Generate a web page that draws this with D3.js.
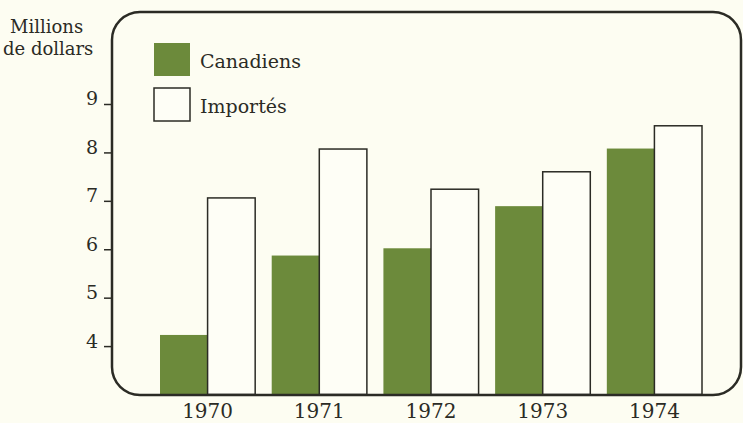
<!DOCTYPE html>
<html>
<head>
<meta charset="utf-8">
<script src="https://cdn.jsdelivr.net/npm/d3@7.9.0/dist/d3.min.js"></script>
<style>
  body { margin: 0; background: #fdfdf2; }
  svg { display: block; }
  text { font-family: "DejaVu Serif", serif; fill: #2b2b25; }
</style>
</head>
<body>
<svg id="chart" width="743" height="423"></svg>
<script>
const years = ['1970', '1971', '1972', '1973', '1974'];
const series = ['Canadiens', 'Importés'];
const canadiens = [4.23, 5.87, 6.02, 6.89, 8.08];
const importes = [7.06, 8.07, 7.24, 7.6, 8.55];
const yTicks = [4, 5, 6, 7, 8, 9];

const ink = '#2b2b25';
const colors = { 'Canadiens': '#6c8a3b', 'Importés': '#fefef6' };

const svg = d3.select('#chart');

const data = years.map((year, i) => ({
  year,
  values: [
    { key: 'Canadiens', value: canadiens[i] },
    { key: 'Importés', value: importes[i] },
  ],
}));

let x = d3.scaleBand().domain(years).range([160, 702]).paddingInner(0.148).paddingOuter(0);
let xs = d3.scaleBand().domain(series).range([0, x.bandwidth()]).padding(0);
let y = d3.scaleLinear().domain([3, 9]).range([394.5, 104]);

// bars
const groups = svg.selectAll('g.year')
  .data(data)
  .join('g')
  .attr('class', 'year')
  .attr('transform', (d) => `translate(${x(d.year)},0)`);

groups.selectAll('rect')
  .data((d) => d.values)
  .join('rect')
  .attr('x', (d) => xs(d.key))
  .attr('y', (d) => y(d.value))
  .attr('width', xs.bandwidth())
  .attr('height', (d) => y(3) - y(d.value))
  .attr('fill', (d) => colors[d.key])
  .attr('stroke', (d) => (d.key === 'Importés' ? ink : 'none'))
  .attr('stroke-width', 1.5);

// rounded frame
svg.append('rect')
  .attr('x', 112)
  .attr('y', 12)
  .attr('width', 629)
  .attr('height', 383)
  .attr('rx', 28)
  .attr('fill', 'none')
  .attr('stroke', ink)
  .attr('stroke-width', 2.5);

// y axis ticks
const yAxis = d3.axisLeft(y).tickValues(yTicks).tickSize(7).tickPadding(6).tickFormat(d3.format('d'));
const ga = svg.append('g').attr('transform', 'translate(111,0)').call(yAxis);
ga.select('.domain').remove();
ga.selectAll('line').attr('stroke', ink).attr('stroke-width', 1.5);
ga.selectAll('text')
  .attr('font-family', '"DejaVu Serif", serif')
  .attr('font-size', 19)
  .attr('fill', ink)
  .attr('dy', '0.05em');

// x labels
svg.selectAll('text.yr')
  .data(years)
  .join('text')
  .attr('class', 'yr')
  .attr('x', (d) => x(d) + x.bandwidth() / 2)
  .attr('y', 418)
  .attr('text-anchor', 'middle')
  .attr('font-size', 20)
  .text((d) => d);

// unit title
svg.append('text').attr('x', 10).attr('y', 33).attr('font-size', 18).text('Millions');
svg.append('text').attr('x', 3).attr('y', 55).attr('font-size', 18).text('de dollars');

// legend
const legend = svg.selectAll('g.leg')
  .data(series)
  .join('g')
  .attr('class', 'leg')
  .attr('transform', (d, i) => `translate(154,${43 + i * 45})`);

legend.append('rect')
  .attr('width', 36)
  .attr('height', 33)
  .attr('fill', (d) => colors[d])
  .attr('stroke', (d) => (d === 'Importés' ? ink : 'none'))
  .attr('stroke-width', 1.5);

legend.append('text')
  .attr('x', 46)
  .attr('y', 25)
  .attr('font-size', 19)
  .text((d) => d);
</script>
</body>
</html>
